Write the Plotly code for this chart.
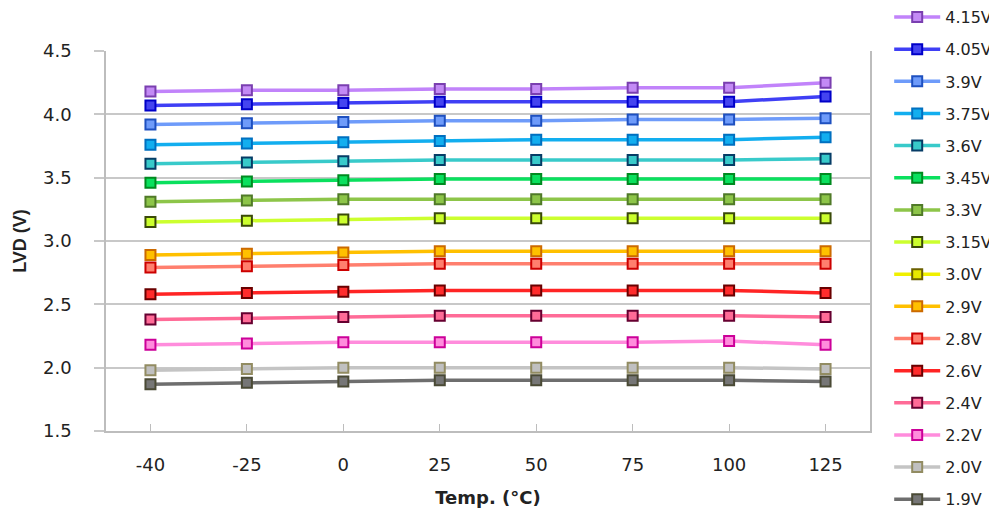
import plotly.graph_objects as go

temps = ["-40", "-25", "0", "25", "50", "75", "100", "125"]

names = ["4.15V", "4.05V", "3.9V", "3.75V", "3.6V", "3.45V", "3.3V", "3.15V",
         "3.0V", "2.9V", "2.8V", "2.6V", "2.4V", "2.2V", "2.0V", "1.9V"]

v415 = [4.18, 4.19, 4.19, 4.20, 4.20, 4.21, 4.21, 4.25]
v405 = [4.07, 4.08, 4.09, 4.10, 4.10, 4.10, 4.10, 4.14]
v390 = [3.92, 3.93, 3.94, 3.95, 3.95, 3.96, 3.96, 3.97]
v375 = [3.76, 3.77, 3.78, 3.79, 3.80, 3.80, 3.80, 3.82]
v360 = [3.61, 3.62, 3.63, 3.64, 3.64, 3.64, 3.64, 3.65]
v345 = [3.46, 3.47, 3.48, 3.49, 3.49, 3.49, 3.49, 3.49]
v330 = [3.31, 3.32, 3.33, 3.33, 3.33, 3.33, 3.33, 3.33]
v315 = [3.15, 3.16, 3.17, 3.18, 3.18, 3.18, 3.18, 3.18]
v300 = [None, None, None, None, None, None, None, None]
v290 = [2.89, 2.90, 2.91, 2.92, 2.92, 2.92, 2.92, 2.92]
v280 = [2.79, 2.80, 2.81, 2.82, 2.82, 2.82, 2.82, 2.82]
v260 = [2.58, 2.59, 2.60, 2.61, 2.61, 2.61, 2.61, 2.59]
v240 = [2.38, 2.39, 2.40, 2.41, 2.41, 2.41, 2.41, 2.40]
v220 = [2.18, 2.19, 2.20, 2.20, 2.20, 2.20, 2.21, 2.18]
v200 = [1.98, 1.99, 2.00, 2.00, 2.00, 2.00, 2.00, 1.99]
v190 = [1.87, 1.88, 1.89, 1.90, 1.90, 1.90, 1.90, 1.89]

series = [v415, v405, v390, v375, v360, v345, v330, v315,
          v300, v290, v280, v260, v240, v220, v200, v190]

line_colors = ["#C183FA", "#3F3FF5", "#6E9BFA", "#12AEEF", "#38CACA", "#0AE05E",
               "#8DC549", "#CCFF2E", "#F0F000", "#FFC000", "#FF7F6E", "#FF2424",
               "#FF6B97", "#FF8CDC", "#C4C4C4", "#6E6E6E"]
fill_colors = ["#C38AF5", "#4444F0", "#6E9BFA", "#12AEEF", "#38CACA", "#0AE05E",
               "#8DC549", "#CCFF2E", "#E8E800", "#FFC000", "#FF7F6E", "#FF2C2C",
               "#FF6B97", "#FF8CDC", "#C0C0C0", "#767676"]
edge_colors = ["#7A3FB0", "#0000C8", "#1E50C0", "#0070C0", "#063C66", "#008A20",
               "#507A28", "#3A4A08", "#6B6000", "#CC6A00", "#CC0000", "#6A0000",
               "#660030", "#CC0099", "#928C62", "#4A4A35"]

fig = go.Figure()
for i, (n, ys) in enumerate(zip(names, series)):
    fig.add_trace(go.Scatter(
        x=temps, y=ys, name=n, mode="lines+markers",
        legendgroup=n,
        line=dict(color=line_colors[i], width=3.5),
        marker=dict(symbol="square", size=10, color=fill_colors[i],
                    line=dict(color=edge_colors[i], width=2)),
    ))

fig.update_layout(
    width=989, height=506,
    margin=dict(l=98, r=127, t=43, b=83, autoexpand=False),
    paper_bgcolor="white", plot_bgcolor="white",
    font=dict(family="DejaVu Sans", size=16, color="#222222"),
    showlegend=True,
    legend=dict(
        xref="container", yref="paper",
        x=0.891, y=1.134, xanchor="left", yanchor="top",
        maxheight=700,
        font=dict(family="DejaVu Sans", size=16, color="#222222"),
        tracegroupgap=8.35, itemwidth=46, traceorder="grouped",
        bgcolor="rgba(0,0,0,0)",
    ),
    xaxis=dict(
        type="category", categoryorder="array", categoryarray=temps,
        showgrid=False, showline=True, linecolor="#BDBDBD", linewidth=1.5,
        ticks="inside", ticklen=7, tickcolor="#BDBDBD", tickwidth=1,
        ticklabelstandoff=17,
        tickfont=dict(family="DejaVu Sans", size=18, color="#222222"),
        title=dict(text="<b>Temp. (°C)</b>", standoff=17,
                   font=dict(family="DejaVu Sans", size=18, color="#222222")),
        zeroline=False, mirror=False,
    ),
    yaxis=dict(
        range=[1.5, 4.5], dtick=0.5, tickformat=".1f",
        showgrid=True, gridcolor="#C8C8C8", gridwidth=1.5,
        showline=True, linecolor="#BDBDBD", linewidth=1.5, mirror=True,
        ticks="outside", ticklen=10, tickcolor="#C8C8C8", tickwidth=1.5,
        ticklabelstandoff=19,
        tickfont=dict(family="DejaVu Sans", size=18, color="#222222"),
        title=dict(text="<b>LVD (V)</b>", standoff=12,
                   font=dict(family="Liberation Sans", size=18, color="#222222")),
        zeroline=False,
    ),
)

fig.write_html("out.html")
